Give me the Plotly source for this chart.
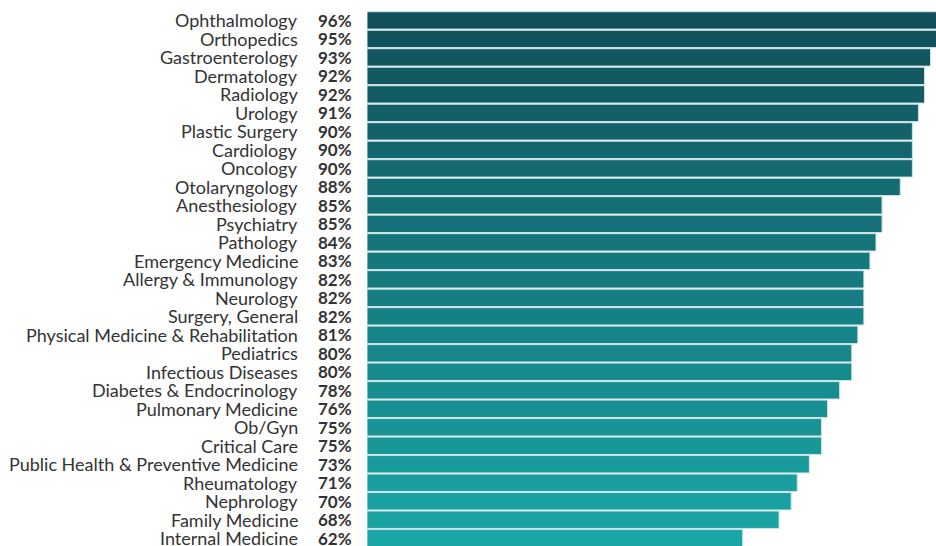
import plotly.graph_objects as go


specialties = [
    "Ophthalmology", "Orthopedics", "Gastroenterology", "Dermatology", "Radiology",
    "Urology", "Plastic Surgery", "Cardiology", "Oncology", "Otolaryngology",
    "Anesthesiology", "Psychiatry", "Pathology", "Emergency Medicine",
    "Allergy & Immunology", "Neurology", "Surgery, General",
    "Physical Medicine & Rehabilitation", "Pediatrics", "Infectious Diseases",
    "Diabetes & Endocrinology", "Pulmonary Medicine", "Ob/Gyn", "Critical Care",
    "Public Health & Preventive Medicine", "Rheumatology", "Nephrology",
    "Family Medicine", "Internal Medicine",
]
shares = [
    96, 95, 93, 92, 92, 91, 90, 90, 90, 88, 85, 85, 84, 83, 82, 82, 82, 81,
    80, 80, 78, 76, 75, 75, 73, 71, 70, 68, 62,
]
share_labels = [f"{v}%" for v in shares]

TOP_COLOR = (17, 80, 90)
BOTTOM_COLOR = (26, 166, 166)
TEXT_COLOR = "#333333"


def _blend(i: int, n: int) -> str:
    t = i / max(n - 1, 1)
    r, g, b = (round(a + (c - a) * t) for a, c in zip(TOP_COLOR, BOTTOM_COLOR))
    return f"rgb({r},{g},{b})"


colors = [_blend(i, len(specialties)) for i in range(len(specialties))]

fig = go.Figure()
fig.add_trace(go.Bar(
    x=shares,
    y=specialties,
    orientation="h",
    marker={"color": colors, "line": {"color": "#cfe4e6", "width": 1}},
    hoverinfo="x+y",
    showlegend=False,
))

for name, label in zip(specialties, share_labels):
    fig.add_annotation(
        x=-0.1178, xref="paper", y=name, yref="y",
        text=name, showarrow=False, xanchor="right",
        font={"family": "Lato", "size": 18, "color": TEXT_COLOR},
    )
    fig.add_annotation(
        x=-0.0562, xref="paper", y=name, yref="y",
        text=f"<b>{label}</b>", showarrow=False, xanchor="center",
        font={"family": "Lato", "size": 17, "color": TEXT_COLOR},
    )

fig.update_layout(
    width=936, height=546,
    margin={"l": 367, "r": 0, "t": 11, "b": 0},
    paper_bgcolor="white", plot_bgcolor="white",
    bargap=0.06,
    font={"family": "Lato", "size": 17, "color": TEXT_COLOR},
)
fig.update_xaxes(range=[0, 93.9], visible=False, showgrid=False, zeroline=False)
fig.update_yaxes(
    categoryorder="array", categoryarray=specialties,
    range=[28.42, -0.51], showgrid=False, zeroline=False, showline=False,
    showticklabels=False, ticks="",
)

fig.write_html(
    "out.html",
    config={"displayModeBar": False},
    post_script="document.body.style.margin='0';",
)
